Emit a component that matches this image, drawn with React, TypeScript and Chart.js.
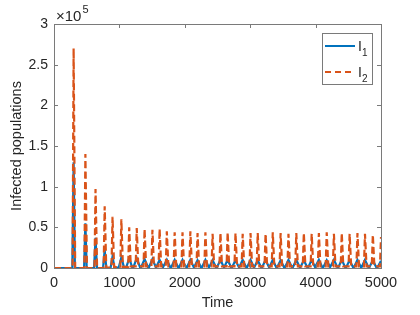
import React, { useEffect, useRef } from "react";
import { Chart, registerables } from "chart.js";

Chart.register(...registerables);

// Time of each oscillation peak
const peakTimes = [300, 480, 635, 775, 895, 1030, 1150, 1265, 1385, 1505, 1615, 1725, 1845, 1965, 2085, 2195, 2315, 2425, 2545, 2655, 2775, 2885, 3005, 3115, 3235, 3345, 3465, 3585, 3705, 3820, 3940, 4050, 4170, 4280, 4400, 4520, 4640, 4755, 4875, 5000];
// I1 peak / trough heights
const i1Peaks = [130000, 55000, 37000, 22000, 14000, 13000, 12000, 12000, 11000, 11000, 10000, 10000, 10000, 10000, 10000, 9500, 10000, 9500, 10000, 10000, 9500, 10000, 10000, 9500, 10000, 10000, 9500, 10000, 10000, 9500, 10000, 10000, 9500, 10000, 10000, 9500, 10000, 10000, 9500, 9000];
const i1Troughs = [0, 0, 0, 0, 0, 500, 800, 1000, 1000, 1000, 1000, 1000, 1000, 1000, 1000, 1000, 1000, 1000, 1000, 1000, 1000, 1000, 1000, 1000, 1000, 1000, 1000, 1000, 1000, 1000, 1000, 1000, 1000, 1000, 1000, 1000, 1000, 1000, 1000, 1000];
const i1Spread = [20, 20, 22, 25, 30, 40, 45, 50, 52, 52, 52, 52, 52, 52, 52, 52, 52, 52, 52, 52, 52, 52, 52, 52, 52, 52, 52, 52, 52, 52, 52, 52, 52, 52, 52, 52, 52, 52, 52, 52];
// I2 peak / trough heights
const i2Peaks = [270000, 140000, 97000, 76000, 63000, 60000, 50000, 49000, 48000, 47000, 48000, 45000, 44000, 44000, 45000, 43000, 44000, 42000, 43000, 44000, 43000, 42000, 43000, 43000, 42000, 44000, 43000, 42000, 43000, 43000, 42000, 43000, 44000, 42000, 43000, 42000, 43000, 42000, 41000, 38000];
const i2Troughs = [0, 0, 0, 0, 500, 1000, 1500, 2000, 2000, 2000, 2000, 2000, 2000, 2000, 2000, 2000, 2000, 2000, 2000, 2000, 2000, 2000, 2000, 2000, 2000, 2000, 2000, 2000, 2000, 2000, 2000, 2000, 2000, 2000, 2000, 2000, 2000, 2000, 2000, 2000];

const xTicks = [0, 1000, 2000, 3000, 4000, 5000];
const xTickLabels = ["0", "1000", "2000", "3000", "4000", "5000"];
const yTickLabels = ["0", "0.5", "1", "1.5", "2", "2.5", "3"];
const seriesNames = ["I", "I"];
const seriesSubs = ["1", "2"];

const BLUE = "#0072BD";
const ORANGE = "#D95319";
const AXIS = "#262626";
const FONT = "'Liberation Sans', Arial, Helvetica, sans-serif";

function buildPoints(peaks: number[], troughs: number[], rise: number[] | number, fall: number[] | number) {
  const pts: { x: number; y: number }[] = [{ x: 0, y: 0 }];
  peakTimes.forEach((t, k) => {
    const r = Array.isArray(rise) ? rise[k] : rise;
    const f = Array.isArray(fall) ? fall[k] : fall;
    pts.push({ x: t - r, y: troughs[k] });
    pts.push({ x: t, y: peaks[k] });
    if (t < 5000) {
      const next = k + 1 < troughs.length ? troughs[k + 1] : troughs[k];
      pts.push({ x: t + f, y: next });
    }
  });
  return pts;
}

const framePlugin = {
  id: "frame",
  afterDraw(chart: any) {
    const { ctx, chartArea: a, scales } = chart;
    ctx.save();
    ctx.strokeStyle = "#7a7a7a";
    ctx.lineWidth = 1;
    ctx.strokeRect(Math.round(a.left) + 0.5, Math.round(a.top) + 0.5, Math.round(a.right - a.left), Math.round(a.bottom - a.top));
    const tl = 4;
    ctx.beginPath();
    xTicks.forEach((v) => {
      const x = Math.round(scales.x.getPixelForValue(v)) + 0.5;
      ctx.moveTo(x, a.bottom);
      ctx.lineTo(x, a.bottom - tl);
      ctx.moveTo(x, a.top);
      ctx.lineTo(x, a.top + tl);
    });
    yTickLabels.forEach((_, i) => {
      const y = Math.round(scales.y.getPixelForValue(i * 50000)) + 0.5;
      ctx.moveTo(a.left, y);
      ctx.lineTo(a.left + tl, y);
      ctx.moveTo(a.right, y);
      ctx.lineTo(a.right - tl, y);
    });
    ctx.stroke();

    // exponent label
    ctx.fillStyle = AXIS;
    ctx.textBaseline = "alphabetic";
    ctx.textAlign = "left";
    ctx.font = `15px ${FONT}`;
    ctx.fillText("\u00d710", a.left + 2, a.top - 3);
    const w = ctx.measureText("\u00d710").width;
    ctx.font = `11px ${FONT}`;
    ctx.fillText("5", a.left + 2 + w + 1, a.top - 11);

    // legend
    const lx = 322.5, ly = 33.5, lw = 50, lh = 51;
    ctx.fillStyle = "#ffffff";
    ctx.fillRect(lx, ly, lw, lh);
    ctx.strokeStyle = "#7a7a7a";
    ctx.lineWidth = 1;
    ctx.strokeRect(lx, ly, lw, lh);
    const rows = [
      { y: 46, color: BLUE, dash: [] as number[] },
      { y: 72, color: ORANGE, dash: [6, 4] },
    ];
    rows.forEach((r, i) => {
      ctx.beginPath();
      ctx.setLineDash(r.dash);
      ctx.strokeStyle = r.color;
      ctx.lineWidth = 2;
      ctx.moveTo(325, r.y);
      ctx.lineTo(355, r.y);
      ctx.stroke();
      ctx.setLineDash([]);
      ctx.fillStyle = AXIS;
      ctx.font = `14px ${FONT}`;
      ctx.fillText(seriesNames[i], 358, r.y + 5);
      ctx.font = `10px ${FONT}`;
      ctx.fillText(seriesSubs[i], 362, r.y + 10);
    });
    ctx.restore();
  },
};

export default function App() {
  const ref = useRef<HTMLCanvasElement | null>(null);
  useEffect(() => {
    document.body.style.margin = "0";
    const canvas = ref.current!;
    const chart = new Chart(canvas, {
      type: "line",
      data: {
        datasets: [
          {
            label: "I1",
            data: buildPoints(i1Peaks, i1Troughs, i1Spread, i1Spread),
            borderColor: BLUE,
            borderWidth: 2.2,
            pointRadius: 0,
            tension: 0,
            order: 2,
          },
          {
            label: "I2",
            data: buildPoints(i2Peaks, i2Troughs, 16, 24),
            borderColor: ORANGE,
            borderWidth: 2.2,
            borderDash: [7, 3.5],
            pointRadius: 0,
            tension: 0,
            order: 1,
          },
        ],
      },
      options: {
        responsive: false,
        animation: false,
        devicePixelRatio: 1,
        parsing: false as any,
        layout: { padding: { left: 0, top: 24, right: 39, bottom: 0 } },
        plugins: { legend: { display: false }, tooltip: { enabled: false } },
        scales: {
          x: {
            type: "linear",
            min: 0,
            max: 5000,
            afterBuildTicks: (s: any) => {
              s.ticks = xTicks.map((v) => ({ value: v }));
            },
            ticks: {
              color: AXIS,
              font: { family: FONT, size: 14.5 },
              padding: 6,
              maxRotation: 0,
              callback: (_v: any, i: number) => xTickLabels[i],
            },
            grid: { display: false, drawTicks: false },
            border: { display: false },
            title: { display: true, text: "Time", color: AXIS, font: { family: FONT, size: 14.5 }, padding: { top: 3, bottom: 3 } },
            afterFit: (s: any) => {
              s.height = 47;
            },
          },
          y: {
            type: "linear",
            min: 0,
            max: 300000,
            afterBuildTicks: (s: any) => {
              s.ticks = yTickLabels.map((_, i) => ({ value: i * 50000 }));
            },
            ticks: {
              color: AXIS,
              font: { family: FONT, size: 14 },
              padding: 6,
              callback: (_v: any, i: number) => yTickLabels[i],
            },
            grid: { display: false, drawTicks: false },
            border: { display: false },
            title: { display: true, text: "Infected populations", color: AXIS, font: { family: FONT, size: 14.5 }, padding: { top: 8, bottom: 0 } },
            afterFit: (s: any) => {
              s.width = 54;
            },
          },
        },
      },
      plugins: [framePlugin],
    });
    return () => chart.destroy();
  }, []);
  return (
    <div style={{ position: "fixed", left: 0, top: 0, width: 420, height: 315, background: "#fff" }}>
      <canvas ref={ref} width={420} height={315} style={{ display: "block" }} />
    </div>
  );
}
